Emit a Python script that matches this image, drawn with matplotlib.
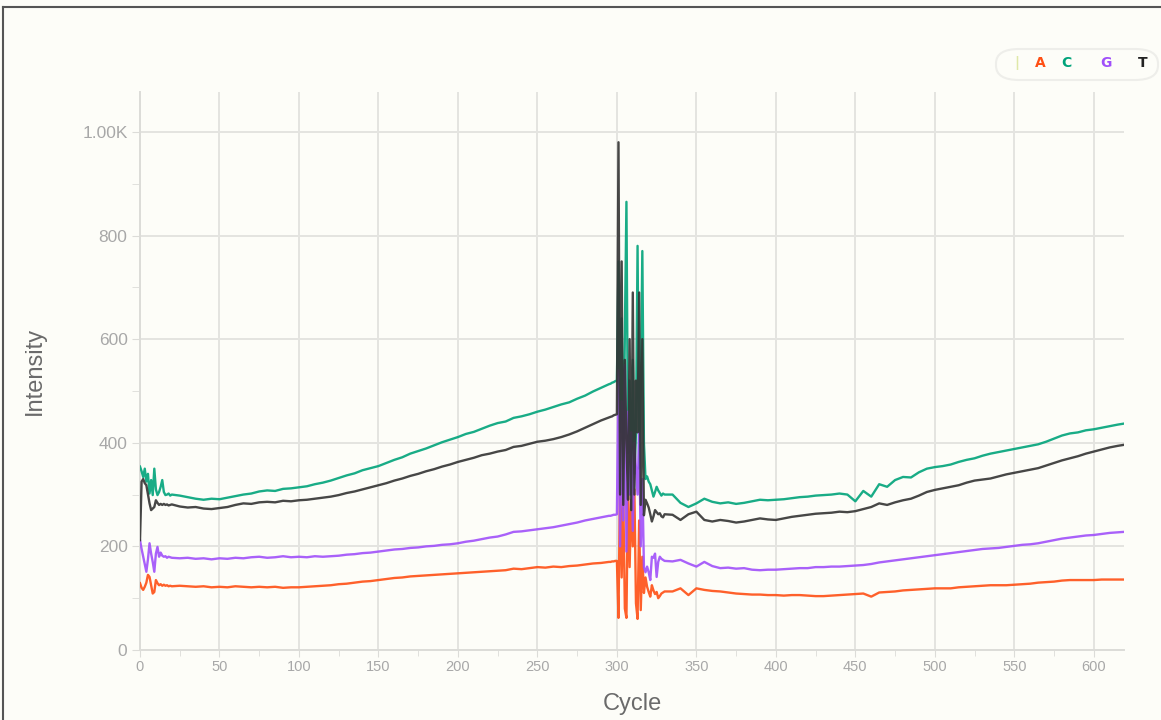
import numpy as np
import matplotlib
matplotlib.use('Agg')
import matplotlib.pyplot as plt
from matplotlib.patches import FancyBboxPatch
from matplotlib.lines import Line2D
from matplotlib.ticker import MultipleLocator, FuncFormatter

plt.rcParams['font.family'] = ['Liberation Sans', 'DejaVu Sans']

# sampled cycles: dense at the start and around the burst, every 5 elsewhere
cycles = np.concatenate([np.arange(0, 21), np.arange(25, 296, 5),
                         np.arange(296, 331), np.arange(335, 616, 5), [619]])

C_vals = [354, 345, 334, 350, 325, 340, 302, 328, 299, 350, 310, 299, 305, 315, 328, 305, 299, 300, 302, 298, 300,
          298, 295, 292, 290, 292, 291, 294, 297, 300, 302,
          306, 308, 307, 311, 312, 314, 316, 320, 323, 327,
          332, 337, 341, 347, 351, 355, 361, 367, 372, 379,
          384, 389, 395, 401, 406, 411, 417, 421, 427, 433,
          438, 441, 448, 451, 455, 460, 464, 469, 474, 478,
          485, 491, 499, 506, 513,
          514, 516, 517, 519, 520,
          750, 420, 640, 350, 600, 865, 380, 520, 300, 560, 340, 420, 780, 350, 500, 770, 400, 330,
          335, 325, 320, 308, 296, 305, 315, 308, 303, 298, 302, 300,
          300, 284, 276, 283, 292, 286, 283, 285, 282, 284,
          287, 290, 289, 290, 291, 293, 295, 296, 298, 299,
          300, 302, 300, 287, 307, 296, 320, 315, 328, 334,
          333, 343, 350, 353, 355, 358, 363, 367, 370, 375,
          379, 382, 385, 388, 391, 394, 397, 402, 408, 414,
          418, 420, 424, 426, 429, 432, 435,
          437]

T_vals = [212, 325, 330, 322, 318, 300, 283, 270, 273, 276, 289, 284, 280, 282, 280, 282, 280, 281, 279, 280, 281,
          277, 275, 276, 273, 272, 274, 276, 280, 283, 282,
          285, 286, 285, 288, 287, 289, 290, 292, 294, 296,
          299, 303, 306, 310, 314, 318, 322, 327, 331, 336,
          340, 345, 349, 354, 358, 363, 367, 371, 376, 379,
          383, 386, 392, 394, 398, 402, 404, 407, 411, 416,
          422, 429, 436, 443, 449,
          450, 451, 453, 454, 455,
          980, 300, 750, 280, 560, 400, 290, 600, 270, 690, 300, 520, 420, 690, 280, 600, 260, 290,
          283, 275, 262, 248, 258, 270, 266, 262, 264, 258, 256, 262,
          261, 251, 262, 267, 251, 248, 251, 249, 246, 248,
          251, 254, 252, 251, 254, 257, 259, 261, 263, 264,
          265, 267, 266, 268, 272, 276, 283, 280, 285, 289,
          292, 298, 305, 309, 312, 315, 318, 323, 327, 329,
          331, 335, 339, 342, 345, 348, 351, 356, 361, 366,
          370, 374, 379, 383, 387, 391, 394,
          396]

G_vals = [212, 195, 180, 165, 151, 175, 206, 186, 170, 151, 186, 199, 180, 188, 182, 180, 181, 178, 180, 179, 178,
          177, 178, 176, 177, 175, 177, 176, 178, 177, 179,
          180, 178, 179, 181, 179, 180, 179, 181, 180, 181,
          182, 184, 185, 187, 188, 190, 192, 194, 195, 197,
          198, 200, 201, 203, 204, 206, 209, 211, 214, 217,
          219, 223, 228, 229, 231, 233, 235, 237, 240, 243,
          246, 250, 253, 256, 259,
          259, 260, 261, 261, 262,
          540, 200, 480, 250, 550, 190, 460, 300, 420, 230, 400, 350, 300, 420, 200, 330, 160, 150,
          161, 150, 135, 180, 178, 186, 141, 170, 180, 176, 174, 172,
          171, 174, 167, 161, 170, 162, 158, 159, 157, 158,
          155, 154, 155, 155, 156, 157, 158, 158, 160, 160,
          161, 161, 162, 163, 164, 166, 169, 171, 173, 175,
          177, 179, 181, 183, 185, 187, 189, 191, 193, 195,
          196, 197, 199, 201, 203, 204, 206, 209, 212, 215,
          217, 219, 221, 222, 224, 226, 227,
          228]

A_vals = [129, 120, 116, 122, 130, 145, 141, 125, 109, 112, 135, 129, 125, 127, 124, 126, 124, 125, 123, 124, 123,
          124, 123, 122, 123, 121, 122, 121, 123, 122, 121,
          122, 121, 122, 120, 121, 121, 122, 123, 124, 125,
          127, 128, 130, 132, 133, 135, 137, 139, 140, 142,
          143, 144, 145, 146, 147, 148, 149, 150, 151, 152,
          153, 154, 157, 156, 158, 160, 159, 161, 160, 162,
          163, 165, 167, 168, 170,
          170, 171, 171, 172, 172,
          62, 340, 140, 300, 80, 62, 320, 160, 290, 200, 310, 90, 60, 250, 77, 180, 110, 140,
          122, 112, 103, 125, 115, 108, 112, 100, 104, 109, 111, 113,
          113, 119, 106, 119, 116, 114, 113, 111, 109, 108,
          107, 107, 106, 106, 105, 106, 106, 105, 104, 104,
          105, 106, 107, 108, 109, 103, 111, 112, 113, 115,
          116, 117, 118, 119, 119, 119, 121, 122, 123, 124,
          125, 125, 125, 126, 127, 128, 130, 131, 132, 134,
          135, 135, 135, 135, 136, 136, 136,
          136]

bases = ['A', 'C', 'G', 'T']
colors = {'A': '#ff4f14', 'C': '#00a37a', 'G': '#a050fa', 'T': '#333333'}
series = {'A': A_vals, 'C': C_vals, 'G': G_vals, 'T': T_vals}

bg = '#fdfdf8'
fig = plt.figure(figsize=(11.61, 7.2), dpi=100, facecolor=bg)
ax = fig.add_axes([140/1161, 1-650/720, (1124-140)/1161, (650-92)/720])
ax.set_facecolor(bg)

for b in bases:
    ax.plot(cycles, series[b], color=colors[b], lw=1.7, alpha=0.9, zorder=3)

ax.set_xlim(0, 619)
ax.set_ylim(0, 1077)
ax.xaxis.set_major_locator(MultipleLocator(50))
ax.xaxis.set_minor_locator(MultipleLocator(25))
ax.yaxis.set_major_locator(MultipleLocator(200))
ax.yaxis.set_minor_locator(MultipleLocator(100))
ax.yaxis.set_major_formatter(FuncFormatter(lambda v, p: '1.00K' if v >= 1000 else '%d' % v))

ax.grid(True, which='major', color='#e4e4e0', lw=1.4, zorder=0)
for s in ['top', 'right']:
    ax.spines[s].set_visible(False)
for s in ['left', 'bottom']:
    ax.spines[s].set_color('#dcdcd8')
    ax.spines[s].set_linewidth(1.4)

ax.tick_params(axis='x', which='major', length=5, color='#dcdcd8', labelsize=10.5, labelcolor='#a8a8a8', pad=2)
ax.tick_params(axis='x', which='minor', length=4, color='#dcdcd8')
ax.tick_params(axis='y', which='both', length=6, color='#dcdcd8', labelsize=12.5, labelcolor='#a8a8a8', pad=3)

ax.set_xlabel('Cycle', fontsize=17, color='#6a6a6a', labelpad=14)
ax.set_ylabel('Intensity', fontsize=17, color='#6a6a6a', labelpad=26)

# legend box top right
box = FancyBboxPatch((996/1161, 1-80/720), 162/1161, 31/720,
                     boxstyle='round,pad=0,rounding_size=0.02',
                     transform=fig.transFigure, facecolor=bg, edgecolor='#eeeeea', lw=1.5)
fig.patches.append(box)
leg_items = [('|', '#dfe8a8', 1017), ('A', colors['A'], 1040), ('C', colors['C'], 1066),
             ('G', colors['G'], 1106), ('T', '#222222', 1143)]
for lab, col, px in leg_items:
    fig.text(px/1161, 1-63/720, lab, color=col, fontsize=10, fontweight='bold',
             family=['DejaVu Sans'], ha='center', va='center')

# outer frame (top and left)
fig.lines.append(Line2D([3/1161, 1], [1-7/720, 1-7/720], transform=fig.transFigure, color='#555555', lw=1.5))
fig.lines.append(Line2D([3/1161, 3/1161], [0, 1-7/720], transform=fig.transFigure, color='#555555', lw=1.5))

fig.savefig('out.png', dpi=100, facecolor=bg)
